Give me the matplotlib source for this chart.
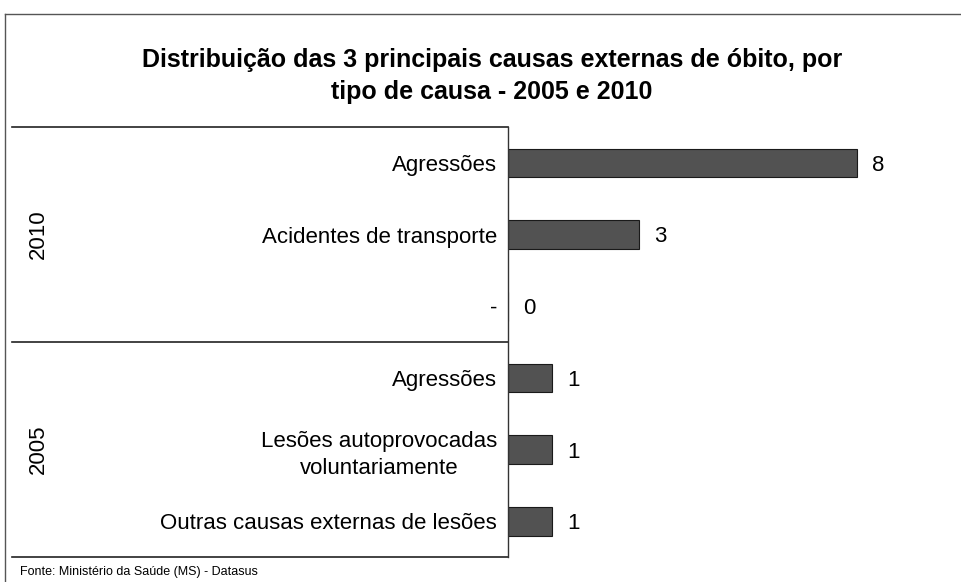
import matplotlib.pyplot as plt
from matplotlib.lines import Line2D

plt.rcParams['font.family'] = ['Liberation Sans', 'DejaVu Sans']

# data, top to bottom
causas = ['Agressões', 'Acidentes de transporte', '-',
          'Agressões', 'Lesões autoprovocadas\nvoluntariamente',
          'Outras causas externas de lesões']
valores = [8, 3, 0, 1, 1, 1]
grupos = ['2010', '2005']
titulo = 'Distribuição das 3 principais causas externas de óbito, por\ntipo de causa - 2005 e 2010'
fonte = 'Fonte: Ministério da Saúde (MS) - Datasus'

fig = plt.figure(figsize=(9.62, 5.82), dpi=100)
ax = fig.add_axes([508 / 962, 1 - 557 / 582, (940 - 508) / 962, (557 - 127) / 582])

pos = list(range(len(causas)))
ax.barh(pos, valores, height=0.4, color='#525252', edgecolor='#1a1a1a', linewidth=0.8)
ax.set_ylim(len(causas) - 0.5, -0.5)
ax.set_xlim(0, 9.9)

for p, v in zip(pos, valores):
    ax.annotate(str(v), (v, p), xytext=(11, 0), textcoords='offset points',
                ha='left', va='center_baseline', fontsize=16)

ax.set_yticks(pos)
ax.set_yticklabels(causas, fontsize=16, ha='right', multialignment='center',
                   linespacing=1.4)
ax.tick_params(axis='y', length=0, pad=8)
ax.set_xticks([])
for s in ['top', 'right', 'bottom']:
    ax.spines[s].set_visible(False)
ax.spines['left'].set_color('#333333')
ax.spines['left'].set_linewidth(1.0)

# group separators and group labels
x0 = (12 - 508) / (940 - 508)
tr = ax.get_yaxis_transform()
for yy in [-0.5, 2.5, 5.5]:
    ax.add_line(Line2D([x0, 0], [yy, yy], transform=tr, color='#222222',
                       linewidth=1.2, clip_on=False))
for i, g in enumerate(grupos):
    ax.text((38 - 508) / (940 - 508), 1 + 3 * i, g, transform=tr, rotation=90,
            ha='center', va='center', fontsize=16)

# figure frame
fig.add_artist(Line2D([5 / 962, 5 / 962], [0, 1 - 14 / 582], color='#555555', linewidth=1.0))
fig.add_artist(Line2D([5 / 962, 1], [1 - 14 / 582, 1 - 14 / 582], color='#555555', linewidth=1.0))

fig.text(492 / 962, 1 - 76 / 582, titulo, ha='center', va='center', fontsize=18,
         fontweight='bold', linespacing=1.4)
fig.text(20 / 962, 1 - 572 / 582, fonte, ha='left', va='center', fontsize=9)

fig.savefig('out.png', dpi=100)
